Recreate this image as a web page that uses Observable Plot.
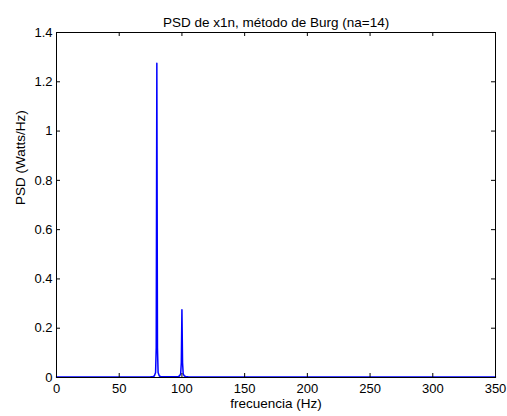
<!DOCTYPE html>
<html>
<head>
<meta charset="utf-8">
<script src="https://cdn.jsdelivr.net/npm/d3@7"></script>
<script src="https://cdn.jsdelivr.net/npm/@observablehq/plot@0.6"></script>
<style>
  html, body { margin: 0; padding: 0; background: #fff; }
  svg { font-family: "Liberation Sans", Arial, sans-serif; }
</style>
</head>
<body>
<div id="chart"></div>
<script>
const title = "PSD de x1n, método de Burg (na=14)";
const xLabel = "frecuencia (Hz)";
const yLabel = "PSD (Watts/Hz)";
const xTicks = [0, 50, 100, 150, 200, 250, 300, 350];
const yTicks = [0, 0.2, 0.4, 0.6, 0.8, 1, 1.2, 1.4];
const freq = [0, 10, 20, 30, 40, 50, 60, 70, 75, 77, 78, 79, 79.5, 80, 80.5, 81, 82, 83, 85, 90, 95, 97, 98, 99, 99.5, 100, 100.5, 101, 102, 103, 105, 110, 120, 150, 200, 250, 300, 350];
const psd  = [0.002, 0.002, 0.002, 0.002, 0.002, 0.002, 0.002, 0.002, 0.003, 0.004, 0.006, 0.02, 0.12, 1.275, 0.12, 0.02, 0.006, 0.004, 0.003, 0.003, 0.003, 0.004, 0.006, 0.015, 0.06, 0.275, 0.06, 0.015, 0.006, 0.004, 0.003, 0.002, 0.002, 0.002, 0.002, 0.002, 0.002, 0.002];
const data = freq.map((f, i) => ({f, p: psd[i]}));

const W = 507, H = 416, mL = 56, mR = 12, mT = 32, mB = 39;
const innerH = H - mT - mB;
const tick = 4;
const fmt = d => String(d);

const chart = Plot.plot({
  width: W, height: H,
  marginLeft: mL, marginRight: mR, marginTop: mT, marginBottom: mB,
  style: {fontSize: "13px", fontFamily: "Liberation Sans, Arial, sans-serif", color: "#000", background: "#fff"},
  x: {domain: [0, 350], ticks: xTicks},
  y: {domain: [0, 1.4], ticks: yTicks},
  marks: [
    Plot.line(data, {x: "f", y: "p", stroke: "#0000ff", strokeWidth: 1.5}),
    Plot.tickX(xTicks, {x: d => d, stroke: "#000", insetTop: innerH - tick}),
    Plot.tickX(xTicks, {x: d => d, stroke: "#000", insetBottom: innerH - tick}),
    Plot.tickY(yTicks, {y: d => d, stroke: "#000", insetRight: W - mL - mR - tick}),
    Plot.tickY(yTicks, {y: d => d, stroke: "#000", insetLeft: W - mL - mR - tick}),
    Plot.frame({stroke: "#000"}),
    Plot.axisX({ticks: xTicks, tickSize: 0, tickPadding: 6, tickFormat: fmt, label: null, fontSize: 13}),
    Plot.axisY({ticks: yTicks, tickSize: 0, tickPadding: 4, tickFormat: fmt, label: null, fontSize: 13}),
    Plot.text([title], {frameAnchor: "top", dy: -15, text: d => d, fontSize: 13.5, fill: "#000"}),
    Plot.text([xLabel], {frameAnchor: "bottom", dy: 30, text: d => d, fontSize: 13.5, fill: "#000"}),
    Plot.text([yLabel], {frameAnchor: "left", dx: -36, rotate: -90, text: d => d, fontSize: 13.5, fill: "#000"})
  ]
});
document.getElementById("chart").appendChild(chart);
</script>
</body>
</html>
